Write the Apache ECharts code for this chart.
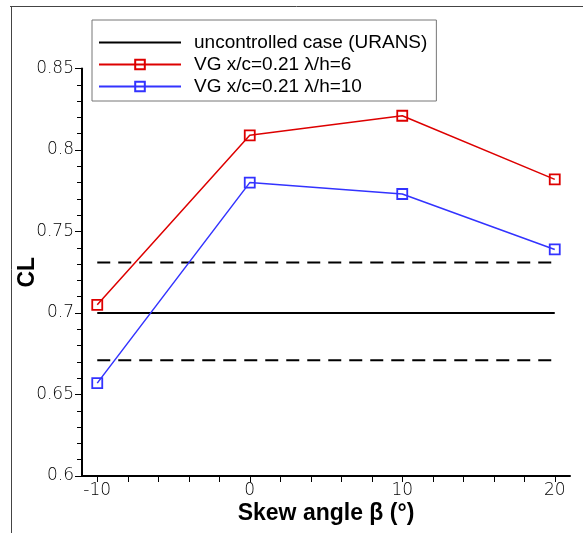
<!DOCTYPE html>
<html>
<head>
<meta charset="utf-8">
<script src="https://cdn.jsdelivr.net/npm/echarts@6/dist/echarts.min.js"></script>
<style>
  html, body { margin: 0; padding: 0; background: #fff; }
  #main { width: 583px; height: 533px; }
</style>
</head>
<body>
<div id="main"></div>
<script>
// skew angle beta (deg)
var skewAngles = [-10, 0, 10, 20];
// CL for the two VG configurations
var clVG6 = [0.705, 0.809, 0.821, 0.782];
var clVG10 = [0.657, 0.780, 0.773, 0.739];
// uncontrolled URANS mean and its band
var baseCL = 0.7;
var bandUpper = 0.731;
var bandLower = 0.671;
var xTickValues = [-10, -8, -6, -4, -2, 0, 2, 4, 6, 8, 10, 12, 14, 16, 18, 20];
var xLabelValues = [-10, 0, 10, 20];

var names = ['uncontrolled case (URANS)', 'VG x/c=0.21 \u03bb/h=6', 'VG x/c=0.21 \u03bb/h=10'];

function pairs(ys) {
  return skewAngles.map(function (x, i) { return [x, ys[i]]; });
}
function flat(v) {
  return [[skewAngles[0], v], [skewAngles[skewAngles.length - 1], v]];
}

var chart = echarts.init(document.getElementById('main'), null, { renderer: 'canvas' });

var font = 'Liberation Sans';
var tickFont = 'DejaVu Sans';
var clear = 'rgba(0,0,0,0)';

var option = {
  backgroundColor: '#ffffff',
  animation: false,
  grid: { left: 82, right: 13, top: 68.5, bottom: 57, containLabel: false, outerBoundsMode: 'none' },
  legend: {
    data: names,
    orient: 'vertical',
    left: 92,
    top: 20,
    padding: [13, 9, 5, 6],
    itemWidth: 82,
    itemHeight: 12,
    itemGap: 3,
    borderColor: '#777',
    borderWidth: 1,
    textStyle: { fontFamily: font, fontSize: 19, color: '#000', padding: [0, 0, 0, 8] }
  },
  xAxis: {
    type: 'value',
    min: -11,
    max: 21,
    axisLine: { onZero: false, lineStyle: { color: '#000', width: 2 } },
    axisTick: { customValues: xTickValues, length: 6, lineStyle: { color: '#000', width: 1 } },
    axisLabel: { customValues: xLabelValues, fontFamily: tickFont, fontWeight: 200, fontSize: 17, color: '#000', margin: 6 },
    splitLine: { show: false },
    name: 'Skew angle \u03b2 (\u00b0)',
    nameLocation: 'middle',
    nameGap: 26,
    nameMoveOverlap: false,
    nameTextStyle: { fontFamily: font, fontSize: 23, fontWeight: 'bold', color: '#000' }
  },
  yAxis: {
    type: 'value',
    min: 0.6,
    max: 0.85,
    interval: 0.05,
    axisLine: { show: true, onZero: false, lineStyle: { color: '#000', width: 2 } },
    axisTick: { show: true, length: 7, lineStyle: { color: '#000', width: 1 } },
    minorTick: { show: true, splitNumber: 5, length: 5, lineStyle: { color: '#000', width: 1 } },
    axisLabel: { fontFamily: tickFont, fontWeight: 200, fontSize: 17, color: '#000', margin: 8 },
    splitLine: { show: false },
    name: 'CL',
    nameLocation: 'middle',
    nameGap: 43,
    nameMoveOverlap: false,
    nameTextStyle: { fontFamily: font, fontSize: 23, fontWeight: 'bold', color: '#000' }
  },
  graphic: [
    { type: 'line', shape: { x1: 10, y1: 6.5, x2: 583, y2: 6.5 }, style: { stroke: '#444', lineWidth: 1 } },
    { type: 'line', shape: { x1: 11.5, y1: 6, x2: 11.5, y2: 533 }, style: { stroke: '#444', lineWidth: 1 } }
  ],
  series: [
    {
      name: names[0],
      type: 'line',
      data: flat(baseCL),
      symbol: 'rect',
      showSymbol: false,
      lineStyle: { color: '#000', width: 2 },
      itemStyle: { color: clear, borderColor: clear }
    },
    {
      name: 'upper',
      type: 'line',
      data: flat(bandUpper),
      symbol: 'none',
      lineStyle: { color: '#000', width: 2, type: [13, 8] }
    },
    {
      name: 'lower',
      type: 'line',
      data: flat(bandLower),
      symbol: 'none',
      lineStyle: { color: '#000', width: 2, type: [13, 8] }
    },
    {
      name: names[1],
      type: 'line',
      data: pairs(clVG6),
      symbol: 'rect',
      symbolSize: 10,
      lineStyle: { color: '#dd0000', width: 1.5 },
      itemStyle: { color: clear, borderColor: '#dd0000', borderWidth: 1.8 }
    },
    {
      name: names[2],
      type: 'line',
      data: pairs(clVG10),
      symbol: 'rect',
      symbolSize: 10,
      lineStyle: { color: '#3333ff', width: 1.5 },
      itemStyle: { color: clear, borderColor: '#3333ff', borderWidth: 1.8 }
    }
  ]
};

chart.setOption(option);
</script>
</body>
</html>
